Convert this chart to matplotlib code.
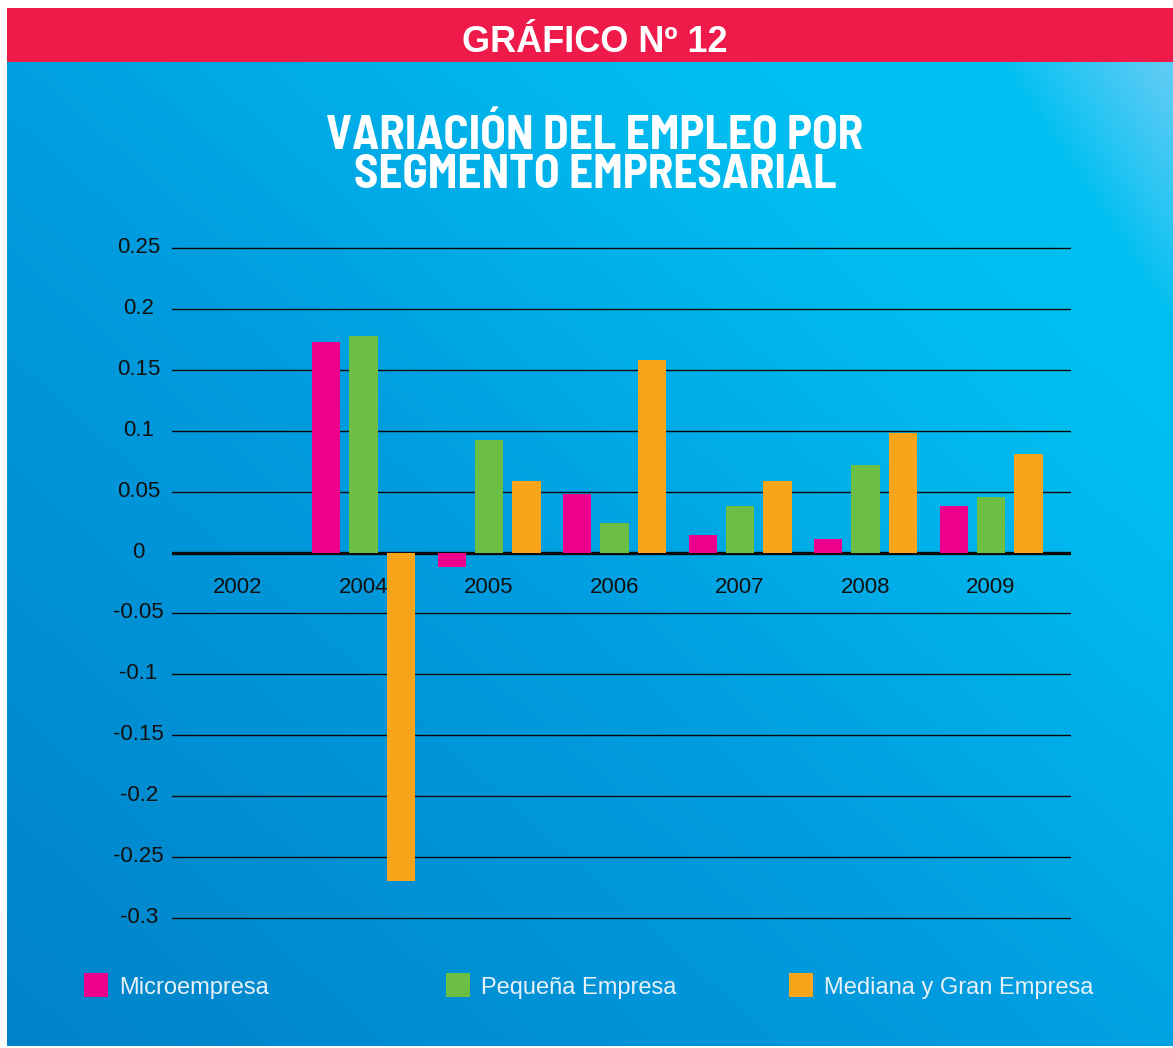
import numpy as np
import matplotlib
matplotlib.use('Agg')
import matplotlib.pyplot as plt
from matplotlib.patches import Rectangle
from matplotlib.colors import to_rgb
from matplotlib.transforms import ScaledTranslation
from matplotlib.font_manager import FontProperties

# ---------------- data ----------------
years = ['2002', '2004', '2005', '2006', '2007', '2008', '2009']
micro = [0, 0.173, -0.012, 0.048, 0.014, 0.0115, 0.038]
pequena = [0, 0.178, 0.092, 0.024, 0.038, 0.072, 0.046]
mediana = [0, -0.27, 0.059, 0.158, 0.059, 0.098, 0.081]
series_names = ['Microempresa', 'Pequeña Empresa', 'Mediana y Gran Empresa']
yticks = [0.25, 0.2, 0.15, 0.1, 0.05, 0, -0.05, -0.1, -0.15, -0.2, -0.25, -0.3]
ytick_labels = ['0.25', '0.2', '0.15', '0.1', '0.05', '0', '-0.05', '-0.1',
                '-0.15', '-0.2', '-0.25', '-0.3']

colors = ['#EC008C', '#6DBE45', '#F9A51C']

W, H = 1173, 1048
fig = plt.figure(figsize=(W / 100, H / 100), dpi=100)
fig.patch.set_facecolor('white')

# ---------------- background ----------------
bg = fig.add_axes([0, 0, 1, 1], zorder=0)
bg.set_xlim(0, W)
bg.set_ylim(H, 0)
bg.axis('off')

x0, x1, y0, y1 = 7, W, 62, 1046
nx, ny = 400, 340
xs = np.linspace(x0, x1, nx)
ys = np.linspace(y0, y1, ny)
X, Y = np.meshgrid(xs, ys)
t = (X / W + (1 - Y / H)) / 2.0
stops_t = [0.0, 0.45, 0.75, 1.0]
stops_c = [to_rgb('#0082C8'), to_rgb('#009DE0'), to_rgb('#00BDF0'), to_rgb('#00C3F3')]
img = np.zeros((ny, nx, 3))
for k in range(3):
    img[..., k] = np.interp(t, stops_t, [c[k] for c in stops_c])
dx, dy = 157.0, 238.0
nrm = np.hypot(dx, dy)
d = ((X - 1003) * dy - (Y - 62) * dx) / nrm
f = np.clip(d / 130.0, 0, 1) ** 0.9
light = np.array(to_rgb('#5CCBF5'))
img = img * (1 - f[..., None]) + light * f[..., None]
bg.imshow(img, extent=(x0, x1, y1, y0), interpolation='bilinear', aspect='auto', zorder=0)

# red header band
bg.add_patch(Rectangle((7, 8), W - 7, 54, facecolor='#EE1A4A', edgecolor='none', zorder=1))
bg.text(595, 52, 'GRÁFICO Nº 12', ha='center', va='baseline', color='white',
        fontsize=26, fontweight='bold', family='Liberation Sans', zorder=2)

# title (condensed bold) as one two-line text, size fitted to the reference width
renderer = fig.canvas.get_renderer()
line1 = 'VARIACIÓN DEL EMPLEO POR'
line2 = 'SEGMENTO EMPRESARIAL'
probe = bg.text(0, 0, line1, fontsize=32, fontweight='bold', family='Barlow Semi Condensed')
w1 = probe.get_window_extent(renderer).width
probe.remove()
fs = 32 * 538.0 / w1
prop = FontProperties(family='Barlow Semi Condensed', weight='bold', size=fs)
_, lp_h, _ = renderer.get_text_width_height_descent('lp', prop, ismath=False)
bg.text(595, 188, line1 + '\n' + line2, ha='center', va='baseline', multialignment='center',
        color='white', fontproperties=prop, linespacing=38.0 / lp_h, zorder=2)

# ---------------- chart ----------------
ylo, yhi = -0.3015, 0.2515
ppu = 670 / 0.55
top_px = 248 - (yhi - 0.25) * ppu
bot_px = 918 + (-0.3 - ylo) * ppu
ax = fig.add_axes([172 / W, 1 - bot_px / H, 899 / W, (bot_px - top_px) / H], zorder=1)
ax.patch.set_visible(False)
x = np.arange(len(years))
bw = 0.225
off = 0.298
ax.bar(x - off, micro, bw, color=colors[0], zorder=3, label=series_names[0])
ax.bar(x, pequena, bw, color=colors[1], zorder=3, label=series_names[1])
ax.bar(x + off, mediana, bw, color=colors[2], zorder=3, label=series_names[2])

ax.set_ylim(ylo, yhi)
ax.set_xlim(-0.526, 6.637)
ax.tick_params(axis='y', length=0, pad=24)
ax.set_yticks(yticks)
ax.set_yticklabels(ytick_labels, family='Liberation Sans', fontsize=16, color='#111111')
shift = ScaledTranslation(0, 3 / 100, fig.dpi_scale_trans)
for lab in ax.get_yticklabels():
    lab.set_horizontalalignment('center')
    lab.set_transform(lab.get_transform() + shift)
ax.set_xticks([])
ax.grid(axis='y', color='#0a0a0a', lw=1.0, zorder=1)
ax.axhline(0, color='#0a0a0a', lw=2.4, zorder=2)
for s in ax.spines.values():
    s.set_visible(False)
for i, yr in enumerate(years):
    ax.text(i, -0.0334, yr, ha='center', va='baseline', family='Liberation Sans',
            fontsize=16, color='#111111')

# ---------------- legend ----------------
sq = [84, 446, 789]
for px, name, c in zip(sq, series_names, colors):
    bg.add_patch(Rectangle((px, 973), 24, 24, facecolor=c, edgecolor='none', zorder=2))
    bg.text(px + 35, 994, name, ha='left', va='baseline', color='#E8F1F8',
            fontsize=17, family='Liberation Sans', zorder=2)

fig.savefig('out.png', dpi=100)
